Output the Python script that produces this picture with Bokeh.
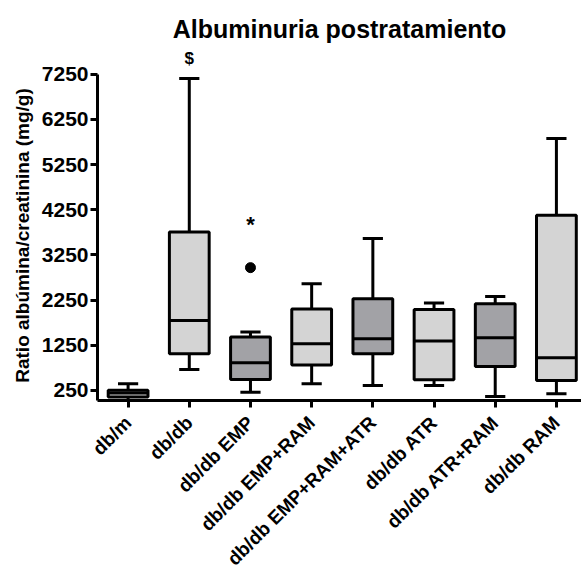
from bokeh.plotting import figure
from bokeh.models import Label, FixedTicker, Range1d, ColumnDataSource, Title
from bokeh.embed import file_html
from bokeh.resources import INLINE

categories = ["db/m", "db/db", "db/db EMP", "db/db EMP+RAM", "db/db EMP+RAM+ATR",
              "db/db ATR", "db/db ATR+RAM", "db/db RAM"]
whisk_min = [20, 715, 212, 398, 361, 361, 117, 177]
q1 = [106, 1063, 494, 812, 1063, 487, 782, 472]
median = [195, 1800, 863, 1284, 1395, 1342, 1417, 974]
q3 = [255, 3757, 1431, 2052, 2281, 2044, 2170, 4126]
whisk_max = [398, 7154, 1541, 2613, 3610, 2184, 2332, 5825]
shade = ["light", "light", "dark", "light", "dark", "light", "dark", "light"]
outlier_group = [2]
outlier_value = [2968]
y_ticks = [250, 1250, 2250, 3250, 4250, 5250, 6250, 7250]
title_text = "Albuminuria postratamiento"
y_title = "Ratio albúmina/creatinina (mg/g)"
dollar_text = "$"
star_group, star_text, star_y = 2, "*", 3930

colors = {"light": "#d4d4d4", "dark": "#a2a2a6"}
FONT = "Liberation Sans"

x = list(range(len(categories)))
w = 0.65
cap = 0.33
src = ColumnDataSource(dict(
    x=x, lo=whisk_min, q1=q1, med=median, q3=q3, hi=whisk_max,
    fill=[colors[s] for s in shade],
    cl=[i - cap / 2 for i in x], cr=[i + cap / 2 for i in x],
    bl=[i - w / 2 for i in x], br=[i + w / 2 for i in x],
))

p = figure(width=581, height=581, output_backend="svg", toolbar_location=None,
           x_range=Range1d(-0.5, 7.41), y_range=Range1d(28, 7330),
           min_border_left=97, min_border_right=0, min_border_top=70,
           min_border_bottom=181)
p.outline_line_color = None
p.grid.visible = False
p.background_fill_color = "white"
p.border_fill_color = "white"

p.title.text = title_text
p.title.align = "center"
p.title.text_font = FONT
p.title.text_font_style = "bold"
p.title.text_font_size = "25px"
p.title.text_color = "black"
p.title.standoff = 2

# "$" marker above the db/db box, placed in the top panel
p.add_layout(Title(text=dollar_text, align="left", offset=87, text_font=FONT,
                   text_font_style="bold", text_font_size="17px", text_color="black",
                   standoff=6), "above")

# whiskers
p.segment(x0="x", y0="q3", x1="x", y1="hi", source=src, line_color="black", line_width=3)
p.segment(x0="x", y0="lo", x1="x", y1="q1", source=src, line_color="black", line_width=3)
p.segment(x0="cl", y0="hi", x1="cr", y1="hi", source=src, line_color="black", line_width=3)
p.segment(x0="cl", y0="lo", x1="cr", y1="lo", source=src, line_color="black", line_width=3)
# boxes
p.vbar(x="x", width=w, bottom="q1", top="q3", source=src, fill_color="fill",
       line_color="black", line_width=3)
p.segment(x0="bl", y0="med", x1="br", y1="med", source=src, line_color="black", line_width=3)
# outlier
p.scatter(outlier_group, outlier_value, size=10, color="black")

# axes
p.yaxis.ticker = FixedTicker(ticks=y_ticks)
p.yaxis.bounds = (28, 7250)
p.xaxis.ticker = FixedTicker(ticks=x)
p.xaxis.major_label_overrides = {i: c for i, c in enumerate(categories)}
p.xaxis.major_label_orientation = 0.785398
for ax in (p.xaxis, p.yaxis):
    ax.axis_line_width = 3
    ax.axis_line_color = "black"
    ax.major_tick_line_width = 3
    ax.major_tick_line_color = "black"
    ax.major_tick_out = 7
    ax.major_tick_in = 0
    ax.minor_tick_line_color = None
    ax.major_label_text_font = FONT
    ax.major_label_text_font_style = "bold"
    ax.major_label_text_color = "black"
p.yaxis.major_label_text_font_size = "21px"
p.xaxis.major_label_text_font_size = "19px"
p.yaxis.major_label_standoff = 2
p.xaxis.major_label_standoff = 12
p.yaxis.axis_label = y_title
p.yaxis.axis_label_text_font = FONT
p.yaxis.axis_label_text_font_style = "bold"
p.yaxis.axis_label_text_font_size = "19px"
p.yaxis.axis_label_text_color = "black"
p.yaxis.axis_label_standoff = 6

p.add_layout(Label(x=star_group, y=star_y, text=star_text, text_align="center",
                   text_baseline="middle", text_font=FONT, text_font_style="bold",
                   text_font_size="22px", text_color="black"))

open("out.html", "w").write(file_html(p, INLINE))
